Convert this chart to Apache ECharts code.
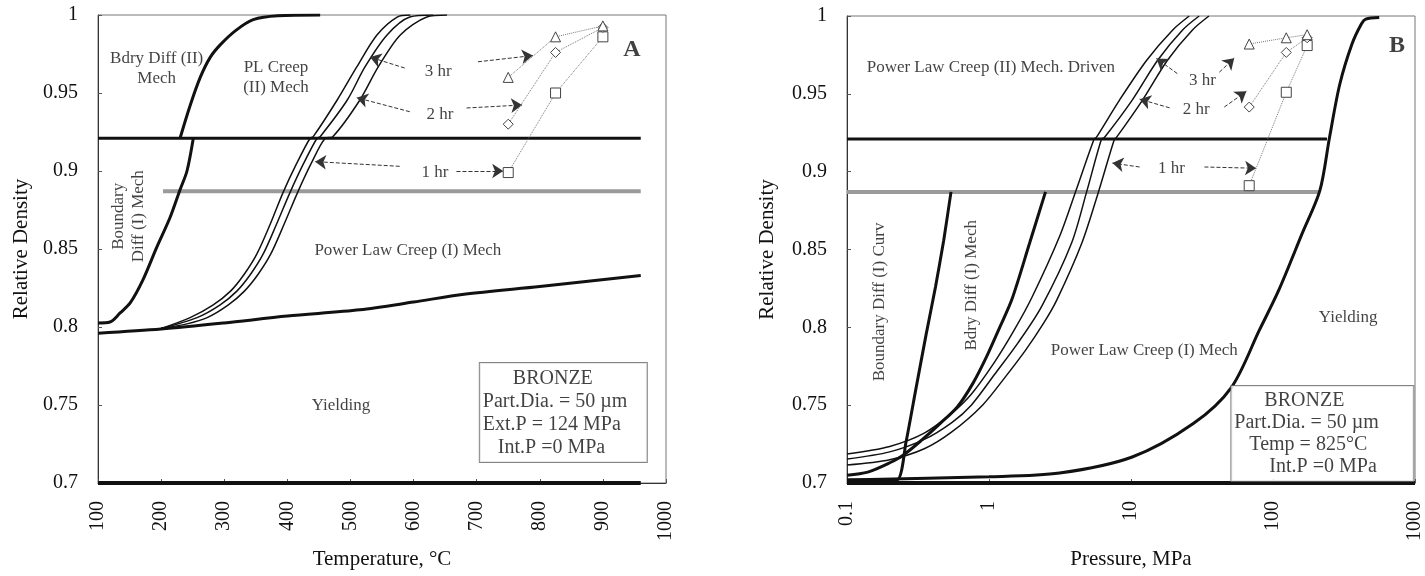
<!DOCTYPE html>
<html>
<head>
<meta charset="utf-8">
<script src="https://cdn.jsdelivr.net/npm/echarts@6/dist/echarts.min.js"></script>
<style>
  html, body { margin: 0; padding: 0; background: #fff; }
  #main { width: 1425px; height: 576px; }
</style>
</head>
<body>
<div id="main"></div>
<script>
// ---------- panel A : temperature ----------
var aBoundaryDiffI = [[100,0.8026],[119,0.8032],[135,0.809],[151,0.8154],[171,0.830],[193,0.851],[214,0.870],[230,0.888],[241,0.900],[251,0.921]];
var aBoundaryDiffII = [[230,0.921],[246,0.942],[262,0.96],[278,0.973],[294,0.981],[318,0.99],[346,0.997],[385,0.9995],[452,1.0]];
var a3hr = [[200,0.799],[246,0.806],[282,0.814],[310,0.823],[332,0.834],[352,0.847],[373,0.866],[393,0.886],[415,0.905],[436,0.921],[441,0.922],[479,0.9455],[510,0.9667],[542,0.9872],[574,0.9987],[595,1.0]];
var a2hr = [[200,0.799],[257,0.806],[293,0.814],[320,0.823],[342,0.834],[362,0.847],[383,0.866],[404,0.886],[426,0.905],[447,0.921],[452,0.922],[495,0.9455],[523,0.9667],[558,0.9872],[594,0.9987],[631,1.0]];
var a1hr = [[200,0.799],[241,0.802],[273,0.806],[306,0.814],[332,0.823],[354,0.834],[374,0.847],[395,0.866],[416,0.886],[438,0.905],[460,0.921],[472,0.922],[515,0.9455],[544,0.9667],[579,0.9872],[621,0.9987],[653,1.0]];
var aYielding = [[100,0.796],[200,0.7987],[300,0.8026],[400,0.807],[515,0.811],[600,0.816],[680,0.821],[800,0.826],[960,0.833]];
var aLevelII = [[100,0.921],[960,0.921]];
var aLevelI = [[203,0.887],[960,0.887]];
var aBase = [[100,0.7],[960,0.7]];

var aTemps = [750, 825, 900];
var aSquares = [0.899, 0.95, 0.986];
var aDiamonds = [0.93, 0.976, 0.992];
var aTriangles = [0.96, 0.986, 0.993];

var aTexts = [
  ['Bdry Diff (II)\nMech', 193, 0.966, 0],
  ['PL Creep\n(II) Mech', 382, 0.9596, 0],
  ['Boundary\nDiff (I) Mech', 149, 0.871, 90],
  ['Power Law Creep (I) Mech', 591, 0.8487, 0],
  ['Yielding', 485, 0.7494, 0]
];
var aHr = [['1 hr', 634, 0.899], ['2 hr', 642, 0.936], ['3 hr', 639, 0.9635]];
var aArrows = [
  [[578,0.903],[444,0.906]], [[668,0.9],[742,0.9]],
  [[594,0.938],[510,0.947]], [[684,0.9404],[772,0.9423]],
  [[586,0.966],[531,0.973]], [[702,0.97],[789,0.974]]
];
var aBox = '      BRONZE\nPart.Dia. = 50 \u00b5m\nExt.P = 124 MPa\n   Int.P =0 MPa';

// ---------- panel B : pressure ----------
var bBoundaryCurv = [[0.1,0.702],[0.225,0.702],[0.26,0.726],[0.305,0.76],[0.36,0.795],[0.42,0.826],[0.48,0.856],[0.54,0.887]];
var bBdryMech = [[0.1,0.705],[0.14,0.707],[0.2,0.713],[0.25,0.718],[0.34,0.728],[0.45,0.738],[0.6,0.749],[0.77,0.764],[0.96,0.781],[1.19,0.80],[1.45,0.818],[1.93,0.854],[2.5,0.887]];
var b3hr = [[0.1,0.7186],[0.2,0.7235],[0.35,0.732],[0.55,0.745],[0.75,0.757],[1.1,0.778],[1.5,0.798],[2.0,0.819],[3.16,0.859],[4.14,0.889],[5.5,0.921],[5.7,0.922],[8.3,0.946],[12.9,0.9716],[19.6,0.9909],[25.7,1.0]];
var b2hr = [[0.1,0.7154],[0.2,0.72],[0.35,0.728],[0.55,0.739],[0.75,0.75],[1.1,0.77],[1.6,0.79],[2.35,0.8135],[3.81,0.854],[4.87,0.887],[6.2,0.921],[6.5,0.922],[10.2,0.946],[15.4,0.9716],[23,0.9909],[30.2,1.0]];
var b1hr = [[0.1,0.7116],[0.2,0.715],[0.35,0.722],[0.55,0.733],[0.9,0.75],[1.3,0.768],[1.8,0.785],[2.4,0.802],[3.0,0.8175],[4.5,0.854],[5.9,0.887],[7.65,0.921],[7.9,0.922],[12.05,0.946],[18.06,0.9716],[27,0.9909],[35.4,1.0]];
var bYielding = [[0.1,0.702],[1,0.704],[3.14,0.7064],[10.2,0.7167],[27.3,0.738],[51,0.7615],[80,0.798],[110,0.824],[160,0.86],[214,0.888],[250,0.922],[295,0.956],[360,0.982],[420,0.995],[450,0.998],[560,0.999]];
var bLevelII = [[0.1,0.921],[240,0.921]];
var bLevelI = [[0.1,0.887],[211,0.887]];
var bBase = [[0.1,0.7],[1000,0.7]];

var bPress = [68, 124, 174];
var bSquares = [0.891, 0.951, 0.981];
var bDiamonds = [0.9415, 0.9766, 0.986];
var bTriangles = [0.982, 0.986, 0.988];

var bTexts = [
  ['Power Law Creep (II) Mech. Driven', 1.03, 0.9666, 0],
  ['Boundary Diff (I) Curv', 0.17, 0.8163, 90],
  ['Bdry Diff (I) Mech', 0.756, 0.827, 90],
  ['Power Law Creep (I) Mech', 12.4, 0.7848, 0],
  ['Yielding', 338, 0.806, 0]
];
var bHr = [['1 hr', 19.3, 0.9022], ['2 hr', 28.8, 0.9396], ['3 hr', 31.8, 0.9588]];
var bArrows = [
  [[11.5,0.903],[7.4,0.9055]], [[32.9,0.903],[76,0.9022]],
  [[18.7,0.941],[11.5,0.9466]], [[45.4,0.9415],[64.9,0.9516]],
  [[21.2,0.963],[15.1,0.9727]], [[41.9,0.9639],[53.3,0.9729]]
];
var bBox = '      BRONZE\nPart.Dia. = 50 \u00b5m\n   Temp = 825\u00b0C\n       Int.P =0 MPa';

var FONT = 'Liberation Serif';
var chart = echarts.init(document.getElementById('main'));

function curve(data, i, width, color, smooth) {
  return {
    type: 'line', xAxisIndex: i, yAxisIndex: i, data: data,
    symbol: 'none', smooth: smooth || 0, silent: true,
    lineStyle: { width: width, color: color }
  };
}

function markers(xs, ys, i, symbol, size) {
  var d = xs.map(function (x, k) { return [x, ys[k]]; });
  return {
    type: 'line', xAxisIndex: i, yAxisIndex: i, data: d,
    symbol: symbol, symbolSize: size, showSymbol: true, z: 5,
    itemStyle: { color: '#fff', borderColor: '#444', borderWidth: 1 },
    lineStyle: { type: 'dotted', color: '#777', width: 1 }
  };
}

function texts(list, i, hr, arrows, tag, tagPos, box, boxPos, boxW, boxLH) {
  var d = list.map(function (t) {
    return { value: [t[1], t[2]], label: { formatter: t[0], rotate: t[3] } };
  });
  hr.forEach(function (h) {
    d.push({ value: [h[1], h[2]], label: { formatter: h[0], fontSize: 17 } });
  });
  d.push({ value: tagPos, label: { formatter: tag, fontSize: 24, fontWeight: 'bold' } });
  d.push({ value: boxPos, label: {
    formatter: box, position: [0, 0], align: 'left', verticalAlign: 'top',
    fontSize: 20, lineHeight: boxLH, width: boxW,
    backgroundColor: '#fff', borderColor: '#666', borderWidth: 1, padding: [4, 4, 3, 3]
  } });
  return {
    type: 'scatter', xAxisIndex: i, yAxisIndex: i, data: d,
    symbolSize: 0, silent: true, z: 10,
    label: { show: true, position: 'inside', color: '#111', fontFamily: FONT, fontSize: 17, lineHeight: 20 },
    markLine: {
      silent: true, symbol: ['none', 'arrow'], symbolSize: 11,
      label: { show: false },
      lineStyle: { type: 'dashed', color: '#333', width: 1 },
      data: arrows.map(function (a) { return [{ coord: a[0] }, { coord: a[1] }]; })
    }
  };
}

var axisText = { fontFamily: FONT, fontSize: 20, color: '#111' };
var nameText = { fontFamily: FONT, fontSize: 21, color: '#111' };
var tick = { show: true, inside: true, length: 4, lineStyle: { color: '#555' } };
var plain = function (v) { return String(v); };

var option = {
  animation: false,
  backgroundColor: '#fff',
  grid: [
    { left: 98, top: 15, width: 568, height: 468, show: true, borderColor: '#777', borderWidth: 1 },
    { left: 847, top: 16, width: 569, height: 467, show: true, borderColor: '#777', borderWidth: 1 }
  ],
  xAxis: [
    { type: 'value', gridIndex: 0, min: 100, max: 1000, interval: 100,
      name: 'Temperature, \u00b0C', nameLocation: 'middle', nameGap: 64, nameTextStyle: nameText,
      axisLine: { lineStyle: { color: '#333' } }, axisTick: tick, splitLine: { show: false },
      axisLabel: Object.assign({ rotate: 90, margin: 18, formatter: plain }, axisText) },
    { type: 'log', gridIndex: 1, min: 0.1, max: 1000, logBase: 10,
      name: 'Pressure, MPa', nameLocation: 'middle', nameGap: 64, nameTextStyle: nameText,
      axisLine: { lineStyle: { color: '#333' } }, axisTick: tick, splitLine: { show: false },
      minorTick: { show: false },
      axisLabel: Object.assign({ rotate: 90, margin: 18, formatter: plain }, axisText) }
  ],
  yAxis: [
    { type: 'value', gridIndex: 0, min: 0.7, max: 1, interval: 0.05,
      name: 'Relative Density', nameLocation: 'middle', nameGap: 66, nameTextStyle: nameText,
      axisLine: { show: true, lineStyle: { color: '#333' } }, axisTick: tick, splitLine: { show: false },
      axisLabel: Object.assign({ margin: 20 }, axisText) },
    { type: 'value', gridIndex: 1, min: 0.7, max: 1, interval: 0.05,
      name: 'Relative Density', nameLocation: 'middle', nameGap: 69, nameTextStyle: nameText,
      axisLine: { show: true, lineStyle: { color: '#333' } }, axisTick: tick, splitLine: { show: false },
      axisLabel: Object.assign({ margin: 20 }, axisText) }
  ],
  series: [
    // panel A
    curve(aLevelI, 0, 4, '#9a9a9a'),
    curve(aLevelII, 0, 3, '#111'),
    curve(aBase, 0, 4, '#111'),
    curve(aYielding, 0, 3, '#111', 0.3),
    curve(aBoundaryDiffI, 0, 3, '#111', 0.3),
    curve(aBoundaryDiffII, 0, 3, '#111', 0.3),
    curve(a3hr, 0, 1.5, '#111', 0.3),
    curve(a2hr, 0, 1.5, '#111', 0.3),
    curve(a1hr, 0, 1.5, '#111', 0.3),
    markers(aTemps, aSquares, 0, 'rect', 10),
    markers(aTemps, aDiamonds, 0, 'diamond', 10),
    markers(aTemps, aTriangles, 0, 'triangle', 10),
    texts(aTexts, 0, aHr, aArrows, 'A', [946, 0.9776], aBox, [705, 0.7769], 160, 23),
    // panel B
    curve(bLevelI, 1, 4, '#9a9a9a'),
    curve(bLevelII, 1, 3, '#111'),
    curve(bBase, 1, 4, '#111'),
    curve(bYielding, 1, 3, '#111', 0.3),
    curve(bBoundaryCurv, 1, 3, '#111', 0.2),
    curve(bBdryMech, 1, 3, '#111', 0.3),
    curve(b3hr, 1, 1.5, '#111', 0.3),
    curve(b2hr, 1, 1.5, '#111', 0.3),
    curve(b1hr, 1, 1.5, '#111', 0.3),
    markers(bPress, bSquares, 1, 'rect', 10),
    markers(bPress, bDiamonds, 1, 'diamond', 10),
    markers(bPress, bTriangles, 1, 'triangle', 10),
    texts(bTexts, 1, bHr, bArrows, 'B', [747, 0.981], bBox, [50.9, 0.7623], 175, 22)
  ]
};
chart.setOption(option);
</script>
</body>
</html>
